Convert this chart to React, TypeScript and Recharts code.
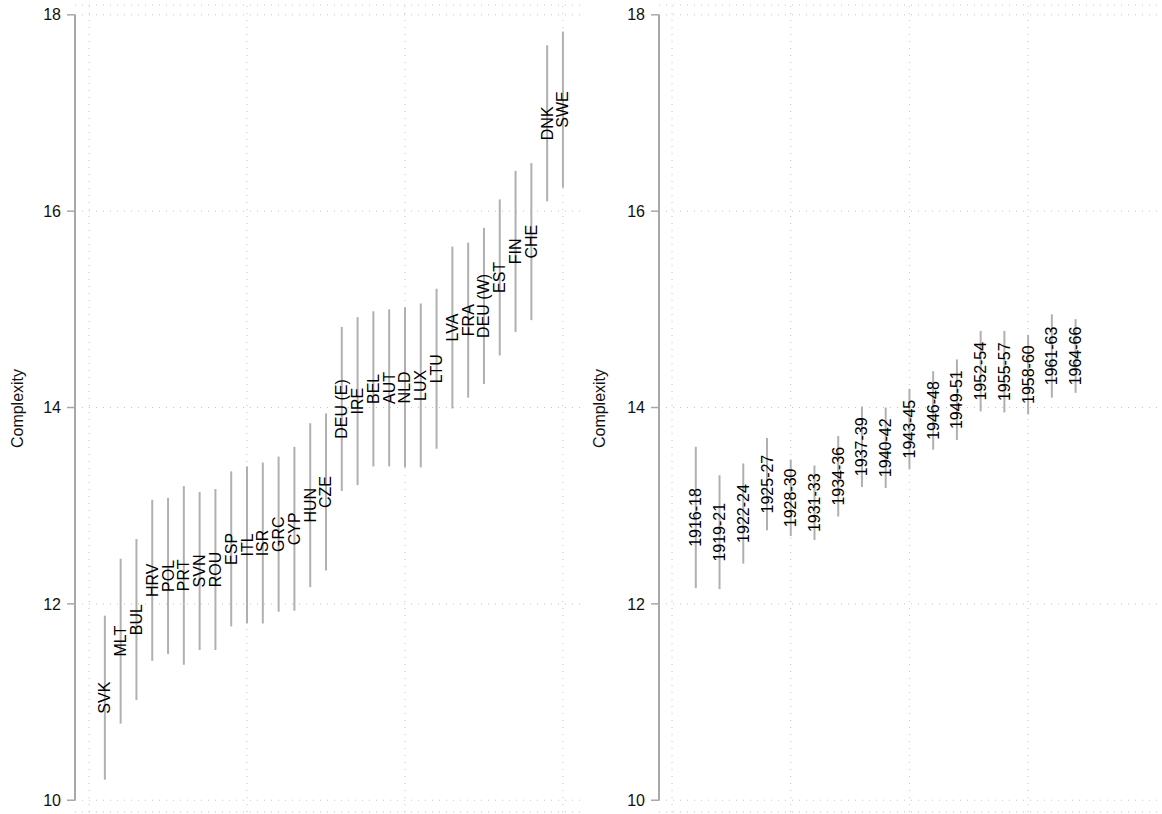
import React from 'react';
import { ComposedChart, Scatter, ErrorBar, XAxis, YAxis, CartesianGrid, ReferenceLine } from 'recharts';

const countries = ['SVK', 'MLT', 'BUL', 'HRV', 'POL', 'PRT', 'SVN', 'ROU', 'ESP', 'ITL', 'ISR', 'GRC', 'CYP', 'HUN', 'CZE',
  'DEU (E)', 'IRE', 'BEL', 'AUT', 'NLD', 'LUX', 'LTU', 'LVA', 'FRA', 'DEU (W)', 'EST', 'FIN', 'CHE', 'DNK', 'SWE'];
const countryLow = [10.21, 10.78, 11.02, 11.42, 11.49, 11.38, 11.53, 11.53, 11.77, 11.80, 11.80, 11.92, 11.93, 12.17, 12.34,
  13.15, 13.21, 13.40, 13.40, 13.39, 13.39, 13.58, 13.99, 14.10, 14.24, 14.53, 14.77, 14.89, 16.10, 16.24];
const countryHigh = [11.88, 12.46, 12.66, 13.06, 13.08, 13.20, 13.14, 13.17, 13.35, 13.40, 13.44, 13.50, 13.60, 13.84, 13.94,
  14.82, 14.92, 14.98, 15.00, 15.02, 15.06, 15.21, 15.64, 15.68, 15.83, 16.12, 16.41, 16.49, 17.69, 17.83];

const periods = ['1916-18', '1919-21', '1922-24', '1925-27', '1928-30', '1931-33', '1934-36', '1937-39', '1940-42',
  '1943-45', '1946-48', '1949-51', '1952-54', '1955-57', '1958-60', '1961-63', '1964-66'];
const periodLow = [12.16, 12.15, 12.41, 12.75, 12.69, 12.65, 12.89, 13.19, 13.18, 13.37, 13.57, 13.67, 13.96, 13.95, 13.93, 14.10, 14.15];
const periodHigh = [13.60, 13.31, 13.43, 13.69, 13.47, 13.41, 13.71, 14.01, 14.00, 14.19, 14.37, 14.49, 14.78, 14.78, 14.74, 14.95, 14.90];

const yTicks = [10, 12, 14, 16, 18];
const FONT = '"Liberation Sans", Arial, sans-serif';
const LINE = '#b0b0b0';
const AXIS = '#a8a8a8';
const GRID = '#c4c4c4';

const build = (names: string[], low: number[], high: number[]) =>
  names.map((name, i) => {
    const mid = (low[i] + high[i]) / 2;
    return { x: i + 1, y: mid, name, err: [mid - low[i], high[i] - mid] };
  });

const countryData = build(countries, countryLow, countryHigh);
const periodData = build(periods, periodLow, periodHigh);

const LabelMark = (props: any) => {
  const { cx, cy, payload } = props;
  if (cx == null || cy == null) return null;
  return (
    <text x={cx} y={cy} transform={`rotate(-90 ${cx} ${cy})`} textAnchor="middle" dominantBaseline="central"
      fontSize={16} fontFamily={FONT} fill="#000">
      {payload.name}
    </text>
  );
};

interface PanelProps {
  data: any[];
  width: number;
  axisWidth: number;
  xDomain: [number, number];
  xTicks: number[];
  labelDx: number;
}

const Panel: React.FC<PanelProps> = ({ data, width, axisWidth, xDomain, xTicks, labelDx }) => (
  <ComposedChart width={width} height={814} data={data} margin={{ top: 5, right: 0, bottom: 2, left: 0 }}>
    <CartesianGrid stroke={GRID} strokeDasharray="1 6" vertical={false} />
    <XAxis type="number" dataKey="x" domain={xDomain} ticks={xTicks} allowDataOverflow hide />
    <YAxis type="number" dataKey="y" domain={[9.88, 18.1]} ticks={yTicks} allowDataOverflow width={axisWidth}
      axisLine={false} tickLine={{ stroke: AXIS, strokeWidth: 1.5 }} tickSize={8} tickMargin={6}
      tick={{ fill: '#111', fontSize: 16, fontFamily: FONT }}
      label={{ value: 'Complexity', angle: -90, position: 'center', dx: labelDx, fill: '#111', fontSize: 16, fontFamily: FONT }} />
    {xTicks.map((t) => (
      <ReferenceLine key={t} x={t} stroke={GRID} strokeDasharray="1 6" />
    ))}
    <ReferenceLine segment={[{ x: xDomain[0], y: 10 }, { x: xDomain[0], y: 18 }]} stroke={AXIS} strokeWidth={2}
      ifOverflow="visible" />
    <Scatter dataKey="y" isAnimationActive={false} shape={<LabelMark />}>
      <ErrorBar dataKey="err" direction="y" width={0} stroke={LINE} strokeWidth={2} isAnimationActive={false} />
    </Scatter>
  </ComposedChart>
);

export default function App() {
  return (
    <div style={{ position: 'absolute', left: 0, top: 0, width: 1162, height: 814, display: 'flex', background: '#fff' }}>
      <Panel data={countryData} width={580} axisWidth={75} xDomain={[-0.89, 31.08]} xTicks={[0, 10, 20, 30]} labelDx={-20} />
      <Panel data={periodData} width={582} axisWidth={79} xDomain={[-0.55, 20.64]} xTicks={[0, 5, 10, 15]} labelDx={-20} />
    </div>
  );
}
